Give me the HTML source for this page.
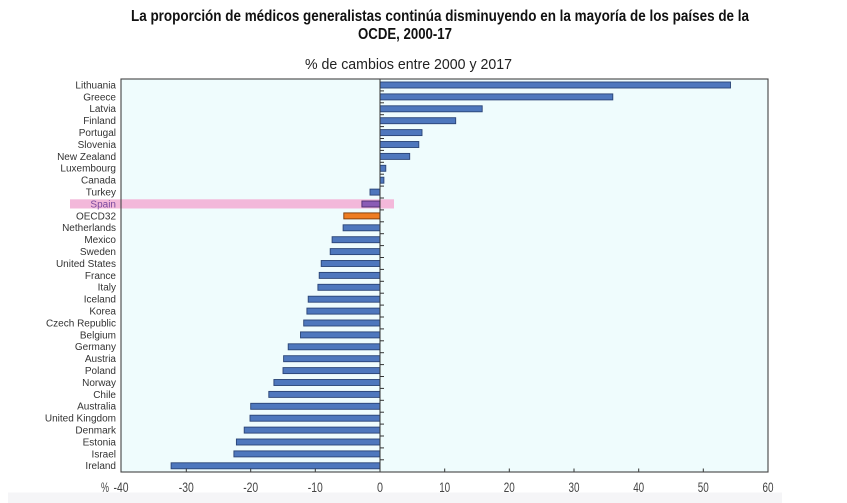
<!DOCTYPE html>
<html>
<head>
<meta charset="utf-8">
<style>
html,body{margin:0;padding:0;background:#fff;}
svg{display:block;}
text{font-family:"Liberation Sans",Arial,sans-serif;}
</style>
</head>
<body>
<svg width="847" height="503" viewBox="0 0 847 503" xmlns="http://www.w3.org/2000/svg">
<rect x="0" y="0" width="847" height="503" fill="#ffffff"/>
<rect x="8" y="492.5" width="774" height="10.5" fill="#f5f5f7"/>
<!-- titles -->
<text x="131" y="21" font-size="15.5" font-weight="bold" fill="#111" textLength="618" lengthAdjust="spacingAndGlyphs">La proporción de médicos generalistas continúa disminuyendo en la mayoría de los países de la</text>
<text x="358" y="39" font-size="15.5" font-weight="bold" fill="#111" textLength="94" lengthAdjust="spacingAndGlyphs">OCDE, 2000-17</text>
<text x="305" y="69" font-size="15" fill="#222" textLength="207" lengthAdjust="spacingAndGlyphs">% de cambios entre 2000 y 2017</text>
<!-- plot background -->
<rect x="121" y="79" width="647" height="393" fill="#effcfd"/>
<!-- Spain highlight -->
<rect x="70" y="199.3" width="324" height="9.2" fill="#f3b8da"/>
<g stroke="#2a4476" stroke-width="0.9">
<rect x="380" y="82" width="350.5" height="6" fill="#4e77bd"/>
<rect x="380" y="93.9" width="232.8" height="6" fill="#4e77bd"/>
<rect x="380" y="105.8" width="102.2" height="6" fill="#4e77bd"/>
<rect x="380" y="117.7" width="75.7" height="6" fill="#4e77bd"/>
<rect x="380" y="129.6" width="42" height="6" fill="#4e77bd"/>
<rect x="380" y="141.5" width="38.8" height="6" fill="#4e77bd"/>
<rect x="380" y="153.4" width="29.7" height="6" fill="#4e77bd"/>
<rect x="380" y="165.3" width="5.8" height="6" fill="#4e77bd"/>
<rect x="380" y="177.2" width="3.9" height="6" fill="#4e77bd"/>
<rect x="370" y="189.1" width="10" height="6" fill="#4e77bd"/>
<rect x="361.9" y="201" width="18.1" height="6" fill="#8a5bb5" stroke="#4b2d6e"/>
<rect x="343.8" y="212.9" width="36.2" height="6" fill="#ee7d22" stroke="#7a3a08"/>
<rect x="343.1" y="224.8" width="36.9" height="6" fill="#4e77bd"/>
<rect x="332.1" y="236.7" width="47.9" height="6" fill="#4e77bd"/>
<rect x="330.2" y="248.6" width="49.8" height="6" fill="#4e77bd"/>
<rect x="321.2" y="260.5" width="58.8" height="6" fill="#4e77bd"/>
<rect x="319.2" y="272.4" width="60.8" height="6" fill="#4e77bd"/>
<rect x="317.9" y="284.3" width="62.1" height="6" fill="#4e77bd"/>
<rect x="308.2" y="296.2" width="71.8" height="6" fill="#4e77bd"/>
<rect x="306.9" y="308.1" width="73.1" height="6" fill="#4e77bd"/>
<rect x="303.7" y="320" width="76.3" height="6" fill="#4e77bd"/>
<rect x="300.5" y="331.9" width="79.5" height="6" fill="#4e77bd"/>
<rect x="288.2" y="343.8" width="91.8" height="6" fill="#4e77bd"/>
<rect x="283.6" y="355.7" width="96.4" height="6" fill="#4e77bd"/>
<rect x="283" y="367.6" width="97" height="6" fill="#4e77bd"/>
<rect x="273.9" y="379.5" width="106.1" height="6" fill="#4e77bd"/>
<rect x="268.8" y="391.4" width="111.2" height="6" fill="#4e77bd"/>
<rect x="250.7" y="403.3" width="129.3" height="6" fill="#4e77bd"/>
<rect x="250" y="415.2" width="130" height="6" fill="#4e77bd"/>
<rect x="244.2" y="427.1" width="135.8" height="6" fill="#4e77bd"/>
<rect x="236.4" y="439" width="143.6" height="6" fill="#4e77bd"/>
<rect x="233.9" y="450.9" width="146.1" height="6" fill="#4e77bd"/>
<rect x="171.1" y="462.8" width="208.9" height="6" fill="#4e77bd"/>
</g>
<!-- zero line + ticks -->
<line x1="380" y1="79" x2="380" y2="472" stroke="#333" stroke-width="1"/>
<g stroke="#333" stroke-width="1">
<line x1="380" y1="90.9" x2="384" y2="90.9"/><line x1="380" y1="102.8" x2="384" y2="102.8"/><line x1="380" y1="114.7" x2="384" y2="114.7"/><line x1="380" y1="126.6" x2="384" y2="126.6"/><line x1="380" y1="138.5" x2="384" y2="138.5"/><line x1="380" y1="150.4" x2="384" y2="150.4"/><line x1="380" y1="162.3" x2="384" y2="162.3"/><line x1="380" y1="174.2" x2="384" y2="174.2"/><line x1="380" y1="186.1" x2="384" y2="186.1"/><line x1="380" y1="198" x2="384" y2="198"/><line x1="380" y1="209.9" x2="384" y2="209.9"/><line x1="380" y1="221.8" x2="384" y2="221.8"/><line x1="380" y1="233.7" x2="384" y2="233.7"/><line x1="380" y1="245.6" x2="384" y2="245.6"/><line x1="380" y1="257.5" x2="384" y2="257.5"/><line x1="380" y1="269.4" x2="384" y2="269.4"/><line x1="380" y1="281.3" x2="384" y2="281.3"/><line x1="380" y1="293.2" x2="384" y2="293.2"/><line x1="380" y1="305.1" x2="384" y2="305.1"/><line x1="380" y1="317" x2="384" y2="317"/><line x1="380" y1="328.9" x2="384" y2="328.9"/><line x1="380" y1="340.8" x2="384" y2="340.8"/><line x1="380" y1="352.7" x2="384" y2="352.7"/><line x1="380" y1="364.6" x2="384" y2="364.6"/><line x1="380" y1="376.5" x2="384" y2="376.5"/><line x1="380" y1="388.4" x2="384" y2="388.4"/><line x1="380" y1="400.3" x2="384" y2="400.3"/><line x1="380" y1="412.2" x2="384" y2="412.2"/><line x1="380" y1="424.1" x2="384" y2="424.1"/><line x1="380" y1="436" x2="384" y2="436"/><line x1="380" y1="447.9" x2="384" y2="447.9"/><line x1="380" y1="459.8" x2="384" y2="459.8"/>
</g>
<!-- bottom ticks -->
<g stroke="#333" stroke-width="1">
<line x1="186.3" y1="468.5" x2="186.3" y2="472"/><line x1="250.7" y1="468.5" x2="250.7" y2="472"/><line x1="315.3" y1="468.5" x2="315.3" y2="472"/><line x1="444.7" y1="468.5" x2="444.7" y2="472"/><line x1="509.3" y1="468.5" x2="509.3" y2="472"/><line x1="574" y1="468.5" x2="574" y2="472"/><line x1="638.7" y1="468.5" x2="638.7" y2="472"/><line x1="703.3" y1="468.5" x2="703.3" y2="472"/>
</g>
<!-- plot border -->
<rect x="121" y="79" width="647" height="393" fill="none" stroke="#444" stroke-width="1.1"/>
<!-- category labels -->
<g font-size="10" fill="#333" text-anchor="end">
<text x="116" y="88.4">Lithuania</text>
<text x="116" y="100.3">Greece</text>
<text x="116" y="112.2">Latvia</text>
<text x="116" y="124.1">Finland</text>
<text x="116" y="136">Portugal</text>
<text x="116" y="147.9">Slovenia</text>
<text x="116" y="159.8">New Zealand</text>
<text x="116" y="171.7">Luxembourg</text>
<text x="116" y="183.6">Canada</text>
<text x="116" y="195.5">Turkey</text>
<text x="116" y="207.4" fill="#7a4a9e">Spain</text>
<text x="116" y="219.3">OECD32</text>
<text x="116" y="231.2">Netherlands</text>
<text x="116" y="243.1">Mexico</text>
<text x="116" y="255">Sweden</text>
<text x="116" y="266.9">United States</text>
<text x="116" y="278.8">France</text>
<text x="116" y="290.7">Italy</text>
<text x="116" y="302.6">Iceland</text>
<text x="116" y="314.5">Korea</text>
<text x="116" y="326.4">Czech Republic</text>
<text x="116" y="338.3">Belgium</text>
<text x="116" y="350.2">Germany</text>
<text x="116" y="362.1">Austria</text>
<text x="116" y="374">Poland</text>
<text x="116" y="385.9">Norway</text>
<text x="116" y="397.8">Chile</text>
<text x="116" y="409.7">Australia</text>
<text x="116" y="421.6">United Kingdom</text>
<text x="116" y="433.5">Denmark</text>
<text x="116" y="445.4">Estonia</text>
<text x="116" y="457.3">Israel</text>
<text x="116" y="469.2">Ireland</text>
</g>
<!-- x tick labels -->
<g font-size="13.5" fill="#444" text-anchor="middle">
<text x="105" y="492" textLength="8" lengthAdjust="spacingAndGlyphs">%</text>
<text x="121" y="492" textLength="15" lengthAdjust="spacingAndGlyphs">-40</text>
<text x="186.3" y="492" textLength="15" lengthAdjust="spacingAndGlyphs">-30</text>
<text x="250.7" y="492" textLength="15" lengthAdjust="spacingAndGlyphs">-20</text>
<text x="315.3" y="492" textLength="15" lengthAdjust="spacingAndGlyphs">-10</text>
<text x="380" y="492" textLength="6" lengthAdjust="spacingAndGlyphs">0</text>
<text x="444.7" y="492" textLength="11" lengthAdjust="spacingAndGlyphs">10</text>
<text x="509.3" y="492" textLength="11" lengthAdjust="spacingAndGlyphs">20</text>
<text x="574" y="492" textLength="11" lengthAdjust="spacingAndGlyphs">30</text>
<text x="638.7" y="492" textLength="11" lengthAdjust="spacingAndGlyphs">40</text>
<text x="703.3" y="492" textLength="11" lengthAdjust="spacingAndGlyphs">50</text>
<text x="768" y="492" textLength="11" lengthAdjust="spacingAndGlyphs">60</text>
</g>
</svg>
</body>
</html>
